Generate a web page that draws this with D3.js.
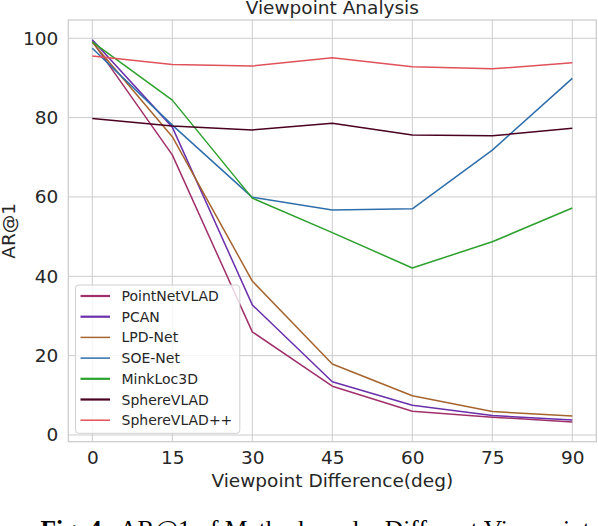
<!DOCTYPE html>
<html><head><meta charset="utf-8">
<script src="https://cdn.jsdelivr.net/npm/d3@7"></script>
<style>body{margin:0;background:#fff;} svg{display:block;}</style>
</head><body>
<script>
const angles = [0, 15, 30, 45, 60, 75, 90];
const seriesNames = ["PointNetVLAD","PCAN","LPD-Net","SOE-Net","MinkLoc3D","SphereVLAD","SphereVLAD++"];
const seriesColors = ["#a0306a","#6a2faa","#a5642e","#2e6eaa","#2ca02c","#4a0020","#e0525a"];
const pointNetVLAD = [99.2, 70.6, 26.0, 12.3, 6.0, 4.5, 3.3];
const pcan         = [99.6, 77.6, 32.8, 13.4, 7.5, 4.9, 3.8];
const lpdNet       = [99.0, 75.2, 38.8, 17.9, 9.9, 5.9, 4.8];
const soeNet       = [97.5, 78.1, 59.9, 56.7, 57.0, 71.8, 89.9];
const minkLoc3D    = [99.1, 84.4, 59.7, 51.0, 42.1, 48.7, 57.2];
const sphereVLAD   = [79.8, 77.9, 76.9, 78.6, 75.6, 75.4, 77.3];
const sphereVLADpp = [95.5, 93.4, 93.0, 95.1, 92.8, 92.3, 93.8];
const yTicks = [0, 20, 40, 60, 80, 100];
const seriesValues = [pointNetVLAD, pcan, lpdNet, soeNet, minkLoc3D, sphereVLAD, sphereVLADpp];

const W = 598, H = 526;
const L = 68.3, R = 596.3, T = 20, B = 441.7;
const svg = d3.select("body").append("svg").attr("width", W).attr("height", H);
const x = d3.scaleLinear().domain([-4.5, 94.5]).range([L, R]);
const y = d3.scaleLinear().domain([-1.69, 104.6]).range([B, T]);
const font = "DejaVu Sans, sans-serif";
const txt = "#262626";

// grid
const g = svg.append("g");
g.selectAll(".gx").data(angles).join("line")
  .attr("x1", d => x(d)).attr("x2", d => x(d)).attr("y1", T).attr("y2", B)
  .attr("stroke", "#cccccc").attr("stroke-width", 1);
g.selectAll(".gy").data(yTicks).join("line")
  .attr("y1", d => y(d)).attr("y2", d => y(d)).attr("x1", L).attr("x2", R)
  .attr("stroke", "#cccccc").attr("stroke-width", 1);
svg.append("rect").attr("x", L).attr("y", T).attr("width", R - L).attr("height", B - T)
  .attr("fill", "none").attr("stroke", "#cccccc").attr("stroke-width", 1.25);

// axes labels via d3 axes
const xAxis = svg.append("g").attr("transform", `translate(0,${B})`)
  .call(d3.axisBottom(x).tickValues(angles).tickSize(0).tickPadding(9));
const yAxis = svg.append("g").attr("transform", `translate(${L},0)`)
  .call(d3.axisLeft(y).tickValues(yTicks).tickSize(0).tickPadding(10));
[xAxis, yAxis].forEach(a => {
  a.select(".domain").remove();
  a.selectAll("text").attr("font-family", font).attr("font-size", 18.5).attr("fill", txt);
});

// lines
const line = d3.line().x((d, i) => x(angles[i])).y(d => y(d));
svg.append("g").selectAll("path").data(seriesValues).join("path")
  .attr("d", d => line(d)).attr("fill", "none")
  .attr("stroke", (d, i) => seriesColors[i]).attr("stroke-width", 1.5)
  .attr("stroke-linejoin", "round");

// title & labels
svg.append("text").attr("x", (L + R) / 2).attr("y", 14).attr("text-anchor", "middle")
  .attr("font-family", font).attr("font-size", 18.5).attr("fill", txt).text("Viewpoint Analysis");
svg.append("text").attr("x", (L + R) / 2).attr("y", 487).attr("text-anchor", "middle")
  .attr("font-family", font).attr("font-size", 18.5).attr("fill", txt).text("Viewpoint Difference(deg)");
svg.append("text").attr("transform", `translate(15,${(T + B) / 2}) rotate(-90)`).attr("text-anchor", "middle")
  .attr("font-family", font).attr("font-size", 18.5).attr("fill", txt).text("AR@1");

// legend
const lg = svg.append("g");
lg.append("rect").attr("x", 75.5).attr("y", 285).attr("width", 164.3).attr("height", 148.3)
  .attr("rx", 3).attr("fill", "#ffffff").attr("fill-opacity", 0.8)
  .attr("stroke", "#d0d0d0").attr("stroke-width", 1);
const items = lg.selectAll(".it").data(seriesNames).join("g")
  .attr("transform", (d, i) => `translate(0,${296 + i * 20.7})`);
items.append("line").attr("x1", 80.5).attr("x2", 110).attr("y1", 0).attr("y2", 0)
  .attr("stroke", (d, i) => seriesColors[i]).attr("stroke-width", (d, i) => [2.2,2.2,1.5,1.5,2.2,2.2,1.5][i]);
items.append("text").attr("x", 121.5).attr("y", 5).attr("font-family", font)
  .attr("font-size", 14).attr("fill", txt).text(d => d);

// caption (partially cut off at bottom, as in the source image)
const cap = svg.append("text").attr("x", 40.5).attr("y", 537.5)
  .attr("font-family", "Liberation Serif, Times New Roman, serif").attr("font-size", 25.5)
  .attr("fill", "#000").style("white-space", "pre");
cap.append("tspan").attr("font-weight", "bold").text("Fig. 4.");
cap.append("tspan").text("  AR@1 of Methods under Different Viewpoints");
</script>
</body></html>
